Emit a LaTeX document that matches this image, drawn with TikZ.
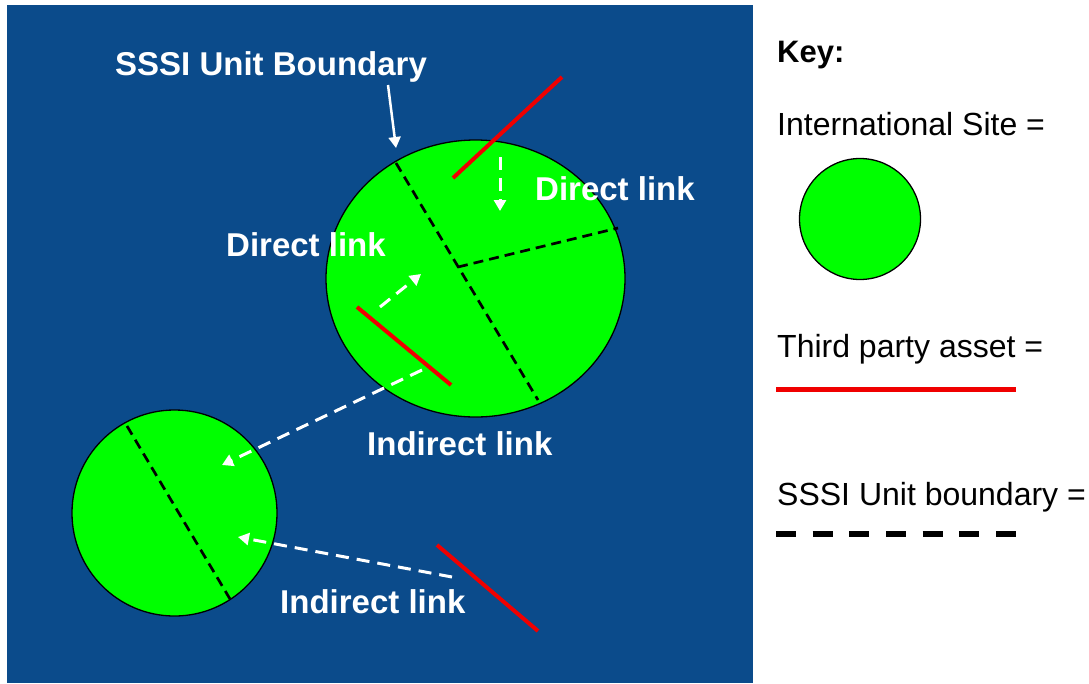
\documentclass[tikz,border=0pt]{standalone}
\usepackage{fontspec}
\setmainfont{Liberation Sans}
\usetikzlibrary{arrows.meta,shapes.geometric}
\definecolor{bg}{RGB}{11,75,139}
\definecolor{site}{RGB}{0,255,0}
\definecolor{asset}{RGB}{240,0,0}
\tikzset{
  sitenode/.style={ellipse,draw=black,line width=1.3pt,fill=site,inner sep=0pt},
  assetline/.style={asset,line width=4pt},
  unitline/.style={black,line width=2.7pt,dash pattern=on 10pt off 6pt},
  linkarrow/.style={white,line width=3pt,dash pattern=on 13pt off 8pt,-{Triangle[length=11pt,width=12pt]}},
  pointer/.style={white,line width=2.5pt,-{Triangle[length=11pt,width=12pt]}},
  lab/.style={text=white,font=\bfseries\fontsize{33}{40}\selectfont,inner sep=0pt,anchor=base west},
  keylab/.style={text=black,font=\fontsize{32}{38}\selectfont,inner sep=0pt,anchor=base west}
}
\begin{document}
\begin{tikzpicture}[x=1pt,y=-1pt]
\useasboundingbox (0,0) rectangle (1089,683);
\fill[white] (0,0) rectangle (1089,683);
\fill[bg] (7,5) rectangle (753,683);
% sites
\node[sitenode,minimum width=299pt,minimum height=277pt] (big) at (475.5,278.5) {};
\node[sitenode,minimum width=205pt,minimum height=206pt] (small) at (174.5,513) {};
% unit boundaries
\coordinate (b1) at (396,163);
\coordinate (bk) at (458,267);
\coordinate (b2) at (538,400);
\coordinate (b3) at (618,228);
\draw[unitline] (b1) -- (b2);
\draw[unitline] (bk) -- (b3);
\coordinate (s1) at (127,426);
\coordinate (s2) at (230,599);
\draw[unitline] (s1) -- (s2);
% third party assets
\coordinate (r1a) at (453,178); \coordinate (r1b) at (562,77);
\coordinate (r2a) at (357,307); \coordinate (r2b) at (451,385);
\coordinate (r3a) at (437,545); \coordinate (r3b) at (538,631);
\draw[assetline] (r1a) -- (r1b);
\draw[assetline] (r2a) -- (r2b);
\draw[assetline] (r3a) -- (r3b);
% labels
\node[lab] (lsssi) at (115,75) {SSSI Unit Boundary};
\node[lab] (ld1) at (535,200) {Direct link};
\node[lab] (ld2) at (226,256) {Direct link};
\node[lab] (li1) at (367,455) {Indirect link};
\node[lab] (li2) at (280,613) {Indirect link};
% arrows
\coordinate (p0) at (388,85); \coordinate (p1) at (396,148);
\draw[pointer] (p0) -- (p1);
\coordinate (a1s) at (500,157); \coordinate (a1e) at (500,211);
\draw[linkarrow] (a1s) -- (a1e);
\coordinate (a2s) at (380,307); \coordinate (a2e) at (421,274);
\draw[linkarrow] (a2s) -- (a2e);
\coordinate (a3s) at (422,370); \coordinate (a3e) at (222,465);
\draw[linkarrow] (a3s) -- (a3e);
\coordinate (a4s) at (452,577); \coordinate (a4e) at (238,537);
\draw[linkarrow] (a4s) -- (a4e);
% key
\node[keylab,font=\bfseries\fontsize{31}{36}\selectfont] (kkey) at (777,62) {Key:};
\node[keylab] (ksite) at (777,135) {International Site =};
\node[sitenode,minimum width=121pt,minimum height=121pt] (keysite) at (860,219) {};
\node[keylab] (kasset) at (777,357) {Third party asset =};
\coordinate (ka1) at (776,389); \coordinate (ka2) at (1016,389);
\draw[asset,line width=5pt] (ka1) -- (ka2);
\node[keylab] (kunit) at (777,505) {SSSI Unit boundary =};
\coordinate (ku1) at (776,534); \coordinate (ku2) at (1016,534);
\draw[black,line width=5.5pt,dash pattern=on 20pt off 16.67pt] (ku1) -- (ku2);
\end{tikzpicture}
\end{document}
